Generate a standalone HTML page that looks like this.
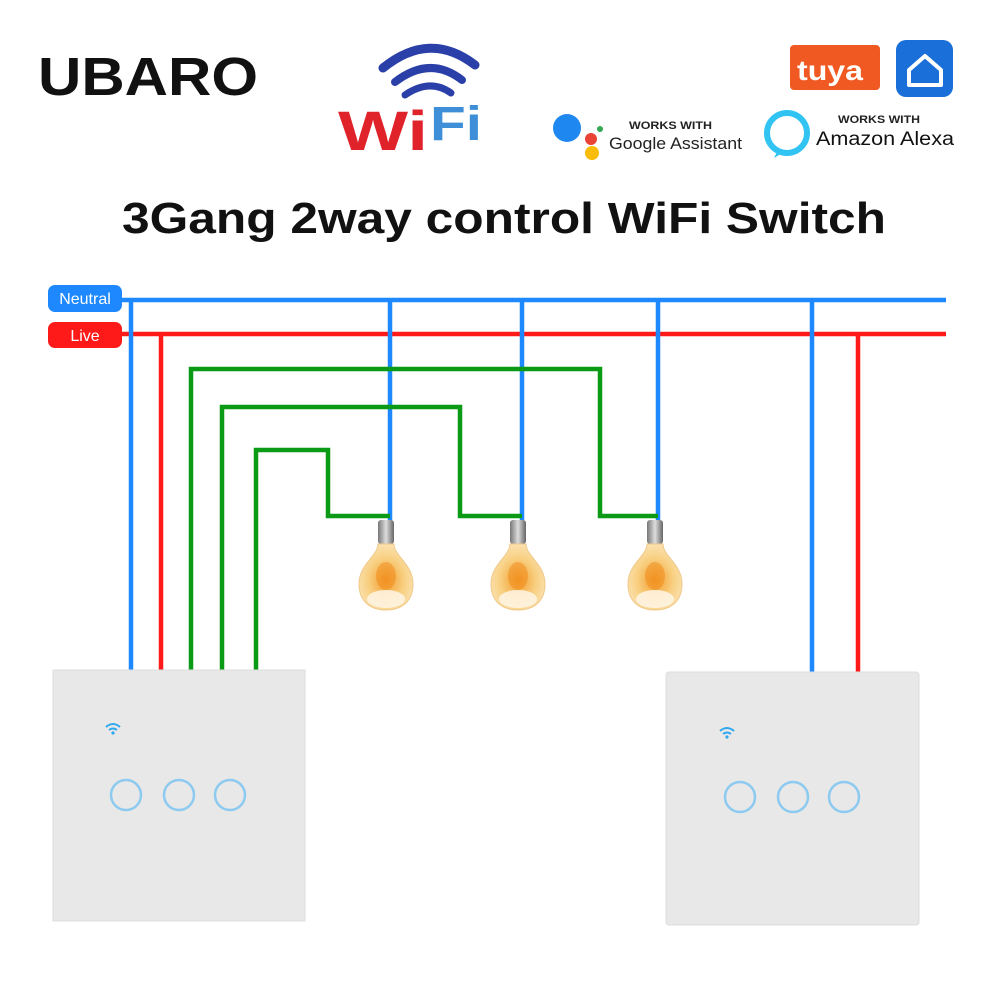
<!DOCTYPE html>
<html><head><meta charset="utf-8"><style>html,body{margin:0;padding:0;background:#fff}svg{display:block}</style></head>
<body>
<svg width="1000" height="1000" viewBox="0 0 1000 1000" xmlns="http://www.w3.org/2000/svg" font-family="Liberation Sans, sans-serif">
<rect width="1000" height="1000" fill="#fff"/>
<text x="38" y="95" font-size="54" font-weight="bold" textLength="220" lengthAdjust="spacingAndGlyphs" fill="#111">UBARO</text>
<!-- wifi logo -->
<g fill="none" stroke="#2b3fa8" stroke-linecap="round">
<path d="M383 68 Q430 30 475 65" stroke-width="9"/>
<path d="M395 82 Q430 55 462 80" stroke-width="8"/>
<path d="M405 95 Q430 78 451 93" stroke-width="7"/>
</g>
<text x="338" y="150" font-size="56" font-weight="bold" fill="#e0222a" textLength="90" lengthAdjust="spacingAndGlyphs">Wi</text>
<text x="430" y="140" font-size="48" font-weight="bold" fill="#3f8fd8" textLength="52" lengthAdjust="spacingAndGlyphs">Fi</text>
<!-- tuya -->
<rect x="790" y="45" width="90" height="45" rx="4" fill="#f05a22"/>
<text x="797" y="80" font-size="28" font-weight="bold" fill="#fff" textLength="66" lengthAdjust="spacingAndGlyphs">tuya</text>
<rect x="896" y="40" width="57" height="57" rx="10" fill="#1a6fd8"/>
<path d="M909 70 L925 56 L941 70 L941 85 L909 85 Z" fill="none" stroke="#fff" stroke-width="4" stroke-linejoin="round"/>
<!-- google -->
<circle cx="567" cy="128" r="14" fill="#1e88f0"/>
<circle cx="591" cy="139" r="6" fill="#ea4335"/>
<circle cx="600" cy="129" r="3" fill="#34a853"/>
<circle cx="592" cy="153" r="7" fill="#fbbc05"/>
<text x="629" y="129" font-size="11" font-weight="bold" fill="#222" textLength="83" lengthAdjust="spacingAndGlyphs">WORKS WITH</text>
<text x="609" y="149" font-size="17" fill="#222" textLength="133" lengthAdjust="spacingAndGlyphs">Google Assistant</text>
<!-- alexa -->
<circle cx="787" cy="133" r="20" fill="none" stroke="#31c4f3" stroke-width="6"/>
<path d="M778 150 L774 158 L784 152 Z" fill="#31c4f3"/>
<text x="838" y="123" font-size="11" font-weight="bold" fill="#222" textLength="82" lengthAdjust="spacingAndGlyphs">WORKS WITH</text>
<text x="816" y="145" font-size="19" fill="#111" textLength="138" lengthAdjust="spacingAndGlyphs">Amazon Alexa</text>
<!-- title -->
<text x="122" y="233" font-size="44" font-weight="bold" fill="#111" textLength="764" lengthAdjust="spacingAndGlyphs">3Gang 2way control WiFi Switch</text>
<!-- wires -->
<g fill="none" stroke-width="4.5">
<path d="M120 300 H946" stroke="#1e88ff"/>
<path d="M120 334 H946" stroke="#ff1a1a"/>
<path d="M131 300 V670 M390 300 V525 M522 300 V525 M658 300 V525 M812 300 V672" stroke="#1e88ff"/>
<path d="M161 334 V670 M858 334 V672" stroke="#ff1a1a"/>
<path d="M191 670 V369 H600 V516 H658" stroke="#0a9a16"/>
<path d="M222 670 V407 H460 V516 H522" stroke="#0a9a16"/>
<path d="M256 670 V450 H328 V516 H390" stroke="#0a9a16"/>
</g>
<rect x="48" y="285" width="74" height="27" rx="7" fill="#1e88ff"/>
<text x="85" y="304" font-size="16" fill="#fff" text-anchor="middle">Neutral</text>
<rect x="48" y="322" width="74" height="26" rx="7" fill="#ff1a1a"/>
<text x="85" y="341" font-size="16" fill="#fff" text-anchor="middle">Live</text>
<!-- bulbs -->
<defs>
<radialGradient id="bg" cx="0.5" cy="0.55" r="0.6"><stop offset="0" stop-color="#f39a2a"/><stop offset="0.55" stop-color="#f8cf80"/><stop offset="1" stop-color="#fbe6bb"/></radialGradient>
<linearGradient id="mg" x1="0" x2="1"><stop offset="0" stop-color="#777"/><stop offset="0.5" stop-color="#ddd"/><stop offset="1" stop-color="#666"/></linearGradient>
<g id="bulb">
<rect x="-8" y="0" width="16" height="24" rx="3" fill="url(#mg)"/>
<path d="M-8 24 C-8 36 -27 44 -27 64 C-27 82 -15 90 0 90 C15 90 27 82 27 64 C27 44 8 36 8 24 Z" fill="url(#bg)" stroke="#f0c888" stroke-width="1"/>
<ellipse cx="0" cy="56" rx="10" ry="14" fill="#f08a18" opacity="0.5"/>
<ellipse cx="0" cy="79" rx="19" ry="9" fill="#fff6e6" opacity="0.85"/>
</g>
</defs>
<use href="#bulb" x="386" y="520"/>
<use href="#bulb" x="518" y="520"/>
<use href="#bulb" x="655" y="520"/>
<!-- switches -->
<g>
<rect x="53" y="670" width="252" height="251" fill="#e8e8e8" stroke="#ddd"/>
<g fill="none" stroke="#8ccaf0" stroke-width="2.5"><circle cx="126" cy="795" r="15"/><circle cx="179" cy="795" r="15"/><circle cx="230" cy="795" r="15"/></g>
<g fill="none" stroke="#30a8f0" stroke-width="2"><path d="M106 727 Q113 721 120 727"/><path d="M109 730 Q113 727 117 730"/></g><circle cx="113" cy="733" r="1.6" fill="#30a8f0"/>
</g>
<g>
<rect x="666" y="672" width="253" height="253" rx="3" fill="#e8e8e8" stroke="#ddd"/>
<g fill="none" stroke="#8ccaf0" stroke-width="2.5"><circle cx="740" cy="797" r="15"/><circle cx="793" cy="797" r="15"/><circle cx="844" cy="797" r="15"/></g>
<g fill="none" stroke="#30a8f0" stroke-width="2"><path d="M720 731 Q727 725 734 731"/><path d="M723 734 Q727 731 731 734"/></g><circle cx="727" cy="737" r="1.6" fill="#30a8f0"/>
</g>
</svg>
</body></html>
